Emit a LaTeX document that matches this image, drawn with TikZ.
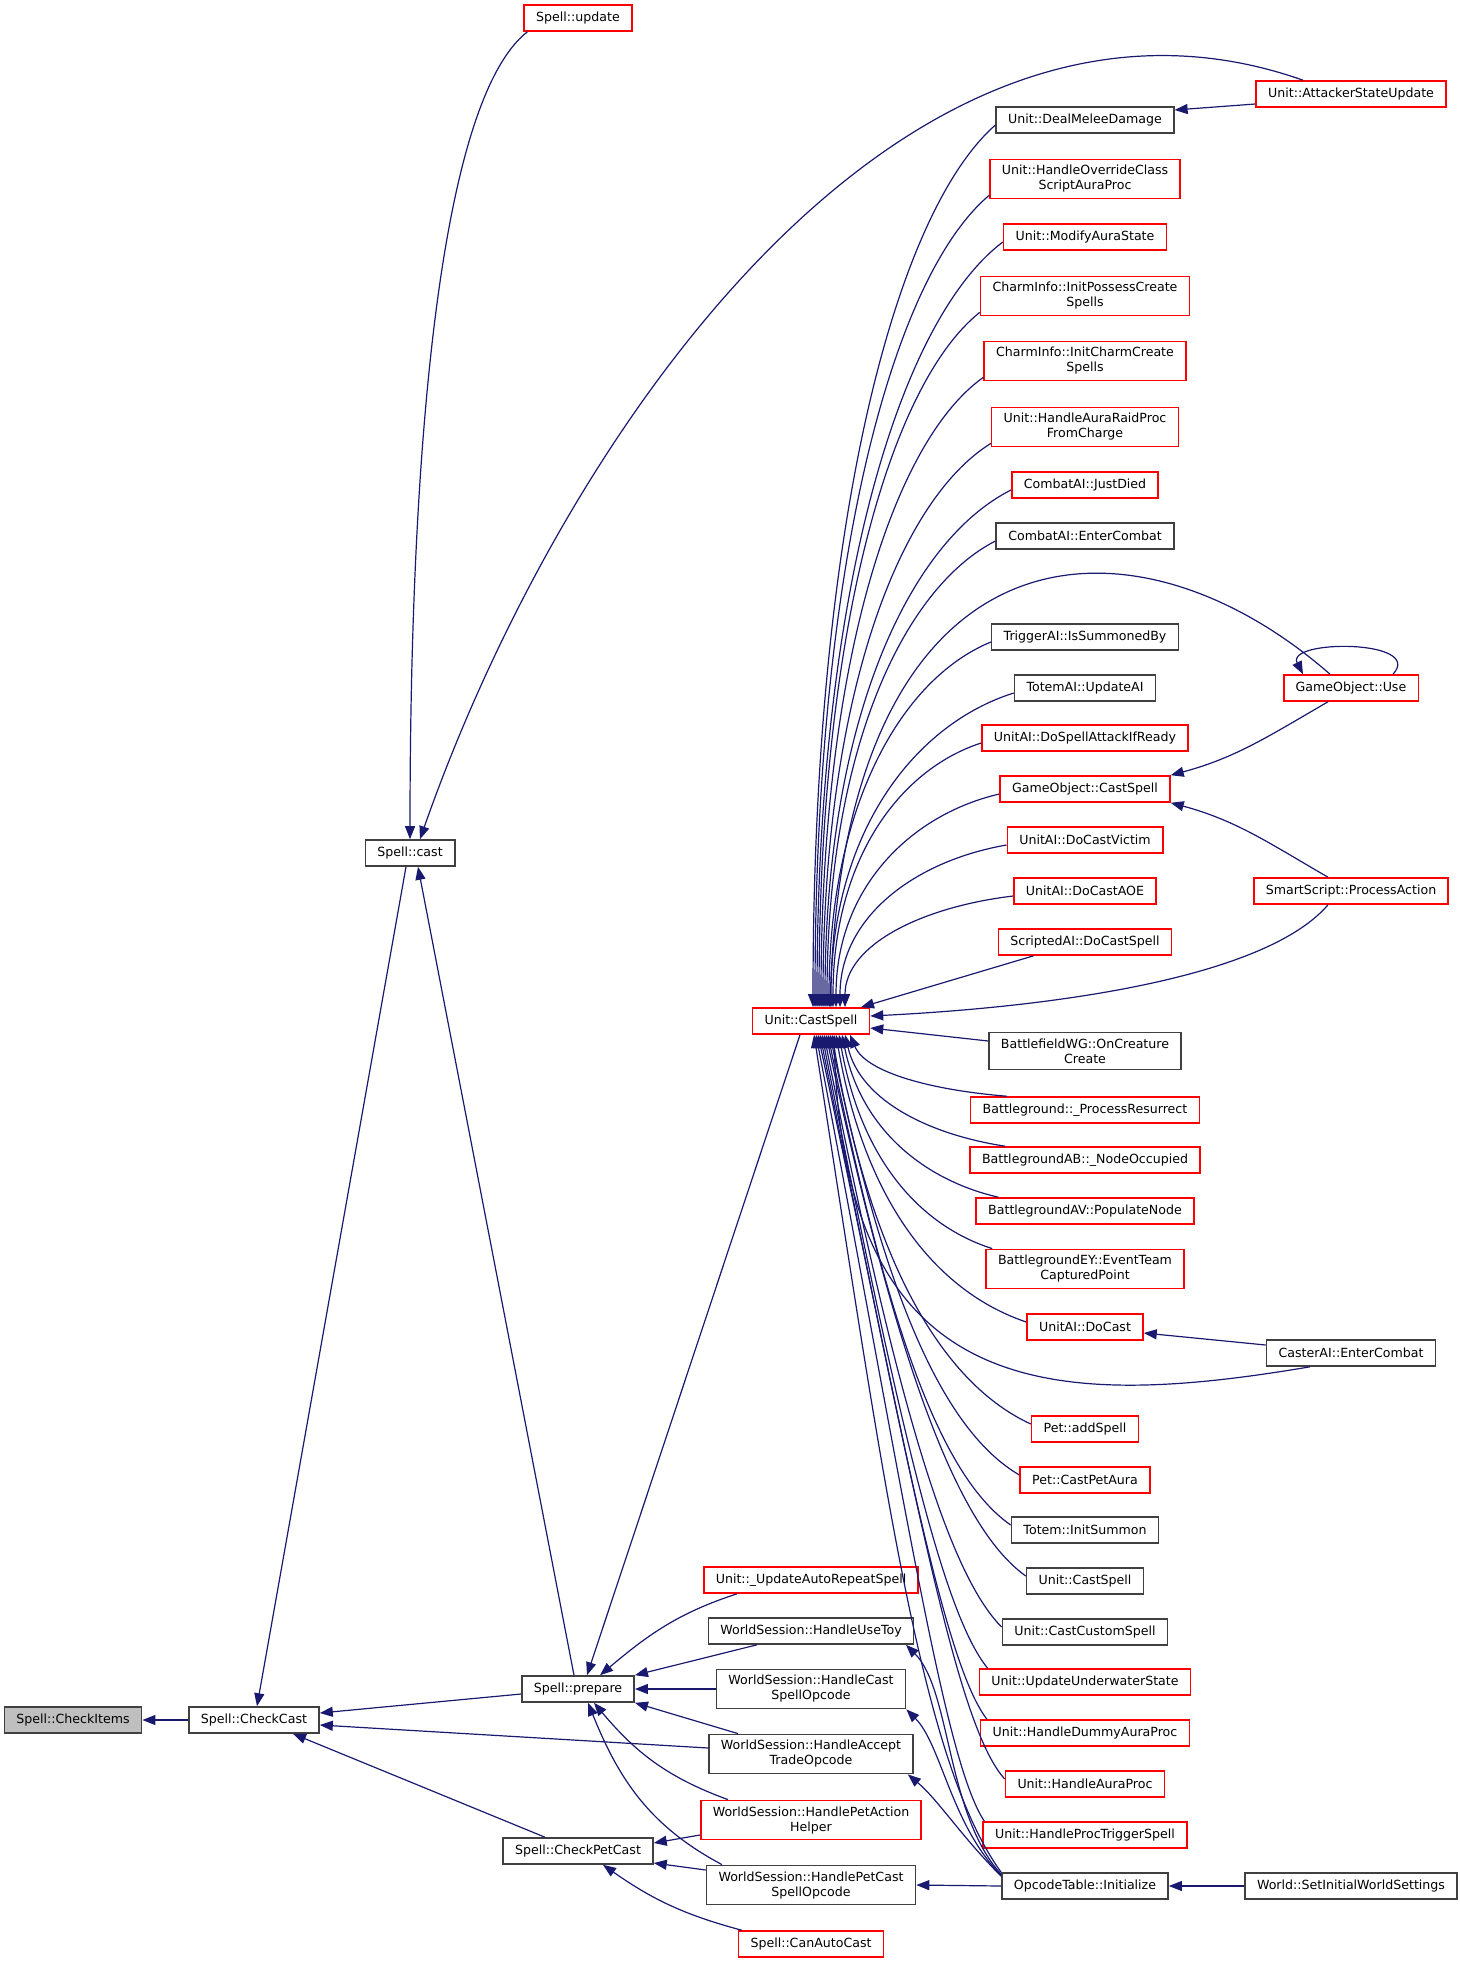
\documentclass[tikz,border=0pt]{standalone}
\usepackage{fontspec}
\setmainfont{DejaVu Sans}
\usetikzlibrary{arrows.meta}
\definecolor{edgeblue}{RGB}{25,25,112}
\tikzset{fn/.style={draw=black!75, fill=white, line width=0.8pt, inner xsep=6pt, inner ysep=3pt,
    minimum height=13pt, align=center, font=\fontsize{6.3}{7.5}\selectfont}}
\tikzset{fnred/.style={fn, draw=red}, fnroot/.style={fn, fill=black!25}}
\tikzset{arr/.style={draw=edgeblue, line width=0.6pt, arrows={Triangle[length=6.5pt,width=5pt]-}}}

\begin{document}
\begin{tikzpicture}[x=0.5pt,y=-0.5pt]
        \useasboundingbox (0,0) rectangle (1460,1963);
        % left part
        \node[fnroot] (ci) at (73,1720) {Spell::CheckItems};
        \node[fn] (cc) at (254,1720) {Spell::CheckCast};
        \node[fn] (cast) at (410,853) {Spell::cast};
        \node[fnred] (upd) at (578,18) {Spell::update};
        \node[fn] (sp) at (578,1689) {Spell::prepare};
        \node[fn] (cpc) at (578,1851) {Spell::CheckPetCast};
        % middle column
        \node[fnred] (ucs) at (811,1021) {Unit::CastSpell};
        \node[fnred] (uar) at (811,1580) {Unit::\_UpdateAutoRepeatSpell};
        \node[fn] (uty) at (811,1631) {WorldSession::HandleUseToy};
        \node[fn] (cso) at (811,1689) {WorldSession::HandleCast\\SpellOpcode};
        \node[fn] (ato) at (811,1754) {WorldSession::HandleAccept\\TradeOpcode};
        \node[fnred] (pah) at (811,1820) {WorldSession::HandlePetAction\\Helper};
        \node[fn] (ppc) at (811,1885) {WorldSession::HandlePetCast\\SpellOpcode};
        \node[fnred] (cac) at (811,1944) {Spell::CanAutoCast};
        % callers of Unit::CastSpell
        \node[fn] (dmd) at (1085,120) {Unit::DealMeleeDamage};
        \node[fnred] (hoc) at (1085,179) {Unit::HandleOverrideClass\\ScriptAuraProc};
        \node[fnred] (mas) at (1085,237) {Unit::ModifyAuraState};
        \node[fnred] (ipc) at (1085,296) {CharmInfo::InitPossessCreate\\Spells};
        \node[fnred] (icc) at (1085,361) {CharmInfo::InitCharmCreate\\Spells};
        \node[fnred] (arp) at (1085,427) {Unit::HandleAuraRaidProc\\FromCharge};
        \node[fnred] (cjd) at (1085,485) {CombatAI::JustDied};
        \node[fn] (cec) at (1085,536) {CombatAI::EnterCombat};
        \node[fn] (tis) at (1085,637) {TriggerAI::IsSummonedBy};
        \node[fn] (tua) at (1085,688) {TotemAI::UpdateAI};
        \node[fnred] (dsa) at (1085,738) {UnitAI::DoSpellAttackIfReady};
        \node[fnred] (gcs) at (1085,789) {GameObject::CastSpell};
        \node[fnred] (dcv) at (1085,840) {UnitAI::DoCastVictim};
        \node[fnred] (dca) at (1085,891) {UnitAI::DoCastAOE};
        \node[fnred] (sds) at (1085,942) {ScriptedAI::DoCastSpell};
        \node[fn] (wg) at (1085,1051) {BattlefieldWG::OnCreature\\Create};
        \node[fnred] (bpr) at (1085,1110) {Battleground::\_ProcessResurrect};
        \node[fnred] (bab) at (1085,1160) {BattlegroundAB::\_NodeOccupied};
        \node[fnred] (bav) at (1085,1211) {BattlegroundAV::PopulateNode};
        \node[fnred] (bey) at (1085,1269) {BattlegroundEY::EventTeam\\CapturedPoint};
        \node[fnred] (dct) at (1085,1327) {UnitAI::DoCast};
        \node[fnred] (pas) at (1085,1429) {Pet::addSpell};
        \node[fnred] (cpa) at (1085,1480) {Pet::CastPetAura};
        \node[fn] (tin) at (1085,1530) {Totem::InitSummon};
        \node[fn] (ucs2) at (1085,1581) {Unit::CastSpell};
        \node[fn] (ccs) at (1085,1632) {Unit::CastCustomSpell};
        \node[fnred] (uuw) at (1085,1682) {Unit::UpdateUnderwaterState};
        \node[fnred] (hda) at (1085,1733) {Unit::HandleDummyAuraProc};
        \node[fnred] (hap) at (1085,1784) {Unit::HandleAuraProc};
        \node[fnred] (hpt) at (1085,1835) {Unit::HandleProcTriggerSpell};
        \node[fn] (opc) at (1085,1886) {OpcodeTable::Initialize};
        % right column
        \node[fnred] (asu) at (1351,94) {Unit::AttackerStateUpdate};
        \node[fnred] (gou) at (1351,688) {GameObject::Use};
        \node[fnred] (sma) at (1351,891) {SmartScript::ProcessAction};
        \node[fn] (cae) at (1351,1353) {CasterAI::EnterCombat};
        \node[fn] (wsi) at (1351,1886) {World::SetInitialWorldSettings};

        % Spell::CheckItems, Spell::CheckCast, Spell::cast
        \draw[arr] (ci.east) -- (cc.west);
        \draw[arr] ([xshift=1.5pt]cc.north) -- ([xshift=-2pt]cast.south);
        \draw[arr] ([yshift=3.5pt]cc.east) -- ([yshift=-2.5pt]sp.west);
        \draw[arr] ([yshift=-2.5pt]cc.east) -- ([yshift=3pt]ato.west);
        \draw[arr] ([xshift=19.5pt]cc.south) -- ([xshift=-16.5pt]cpc.north);
        \draw[arr] (cast.north) .. controls +(0,-390) and +(-88,69) .. ([xshift=2pt]upd.south west);
        \draw[arr] ([xshift=5pt]cast.north) .. controls +(140,-400) and +(-403,-142) .. ([xshift=-24pt]asu.north);
        \draw[arr] ([xshift=4pt]cast.south) -- ([xshift=-2pt]sp.north);
        % Spell::prepare
        \draw[arr] ([xshift=4.5pt]sp.north) -- ([xshift=-5.5pt]ucs.south);
        \draw[arr] ([xshift=11pt]sp.north) to[out=40,in=198] ([xshift=-37pt]uar.south);
        \draw[arr] (sp.north east) -- ([xshift=-27pt]uty.south);
        \draw[arr] (sp.east) -- (cso.west);
        \draw[arr] (sp.south east) -- ([xshift=-36.5pt]ato.north);
        \draw[arr] ([xshift=8pt]sp.south) to[out=-50,in=160] ([xshift=-41.5pt]pah.north);
        \draw[arr] ([xshift=5pt]sp.south) to[out=-68,in=152] ([xshift=-44.5pt]ppc.north);
        % Spell::CheckPetCast
        \draw[arr] ([yshift=4pt]cpc.east) -- ([yshift=-7.5pt]pah.west);
        \draw[arr] ([yshift=-6pt]cpc.east) -- ([yshift=7.5pt]ppc.west);
        \draw[arr] ([xshift=12.5pt]cpc.south) to[out=-35,in=165] ([xshift=2pt]cac.north west);
        % Unit::CastSpell, callers above
        \draw[arr] ([xshift=1pt]ucs.north) .. controls +(0,-486) and +(-100,88) .. ([yshift=-2.5pt]dmd.west);
        \draw[arr] ([xshift=2pt]ucs.north) .. controls +(0,-447) and +(-96,81) .. ([yshift=2pt]hoc.south west);
        \draw[arr] ([xshift=3pt]ucs.north) .. controls +(0,-421) and +(-102,77) .. ([yshift=-2.5pt]mas.west);
        \draw[arr] ([xshift=4pt]ucs.north) .. controls +(0,-383) and +(-88,70) .. ([yshift=2pt]ipc.south west);
        \draw[arr] ([xshift=5pt]ucs.north) .. controls +(0,-347) and +(-89,63) .. ([yshift=2pt]icc.south west);
        \draw[arr] ([xshift=6pt]ucs.north) .. controls +(0,-311) and +(-92,57) .. ([yshift=2pt]arp.south west);
        \draw[arr] ([xshift=7pt]ucs.north) .. controls +(0,-285) and +(-103,52) .. ([yshift=-2.5pt]cjd.west);
        \draw[arr] ([xshift=8pt]ucs.north) .. controls +(0,-257) and +(-92,47) .. ([yshift=-2.5pt]cec.west);
        \draw[arr] ([xshift=9.5pt]ucs.north) .. controls +(15,-488) and +(-200,-175) .. ([xshift=-10.5pt]gou.north);
        \draw[arr] ([xshift=9pt]ucs.north) .. controls +(0,-201) and +(-90,37) .. ([yshift=-2.5pt]tis.west);
        \draw[arr] ([xshift=10pt]ucs.north) .. controls +(0,-173) and +(-101,32) .. ([yshift=-2.5pt]tua.west);
        \draw[arr] ([xshift=11pt]ucs.north) .. controls +(0,-146) and +(-83,27) .. ([yshift=-2.5pt]dsa.west);
        \draw[arr] ([xshift=12.5pt]ucs.north) .. controls +(0,-118) and +(-90,21) .. ([yshift=-2.5pt]gcs.west);
        \draw[arr] ([xshift=14.5pt]ucs.north) .. controls +(0,-90) and +(-92,16) .. ([yshift=-2.5pt]dcv.west);
        \draw[arr] ([xshift=17pt]ucs.north) .. controls +(0,-62) and +(-92,11) .. ([yshift=-2.5pt]dca.west);
        \draw[arr] ([xshift=25pt]ucs.north) -- ([xshift=18pt]sds.south west);
        \draw[arr] ([yshift=2.5pt]ucs.east) .. controls +(200,-10) and +(-60,70) .. ([xshift=-11.5pt]sma.south);
        % Unit::CastSpell, callers below
        \draw[arr] ([yshift=-3.5pt]ucs.east) -- ([yshift=5pt]wg.west);
        \draw[arr] ([xshift=19.5pt]ucs.south) .. controls +(16,38) and +(-74,-6) .. (bpr.170);
        \draw[arr] ([xshift=17pt]ucs.south) .. controls +(16,68) and +(-72,-11) .. ([xshift=18pt]bab.north west);
        \draw[arr] ([xshift=15.5pt]ucs.south) .. controls +(20,98) and +(-70,-16) .. ([xshift=11.5pt]bav.north west);
        \draw[arr] ([xshift=14pt]ucs.south) .. controls +(23,129) and +(-69,-22) .. ([xshift=3.5pt]bey.north west);
        \draw[arr] ([xshift=12.5pt]ucs.south) .. controls +(30,173) and +(-86,-29) .. ([yshift=2.5pt]dct.west);
        \draw[arr] ([xshift=11.5pt]ucs.south) .. controls +(10,366) and +(-260,44) .. ([xshift=-20.5pt]cae.south);
        \draw[arr] ([xshift=10.5pt]ucs.south) .. controls +(40,234) and +(-85,-39) .. ([yshift=2.5pt]pas.west);
        \draw[arr] ([xshift=9.5pt]ucs.south) .. controls +(55,265) and +(-75,-44) .. ([yshift=2.5pt]cpa.west);
        \draw[arr] ([xshift=8.5pt]ucs.south) .. controls +(60,295) and +(-70,-49) .. ([yshift=2.5pt]tin.west);
        \draw[arr] ([xshift=7.5pt]ucs.south) .. controls +(70,325) and +(-70,-50) .. ([yshift=2.5pt]ucs2.west);
        \draw[arr] ([xshift=6.5pt]ucs.south) .. controls +(70,356) and +(-55,-55) .. ([yshift=2.5pt]ccs.west);
        \draw[arr] ([xshift=5.5pt]ucs.south) .. controls +(75,382) and +(-45,-55) .. ([xshift=4.5pt]uuw.north west);
        \draw[arr] ([xshift=4.5pt]ucs.south) .. controls +(83,412) and +(-42,-55) .. ([xshift=3.5pt]hda.north west);
        \draw[arr] ([xshift=3.5pt]ucs.south) .. controls +(95,447) and +(-50,-55) .. ([yshift=2.5pt]hap.west);
        \draw[arr] ([xshift=2.5pt]ucs.south) .. controls +(90,470) and +(-40,-60) .. ([xshift=1pt]hpt.north west);
        \draw[arr] ([xshift=1.5pt]ucs.south) .. controls +(70,450) and +(-80,-110) .. (opc.north west);
        % the rest
        \draw[arr] ([yshift=5pt]dmd.east) -- ([yshift=-5pt]asu.west);
        \draw[arr] ([xshift=-24pt]gou.north) .. controls +(-18,-35) and +(32,-35) .. ([xshift=21pt]gou.north);
        \draw[arr] (gcs.north east) to[out=15,in=210] ([xshift=-11.5pt]gou.south);
        \draw[arr] (gcs.south east) to[out=-15,in=150] ([xshift=-11.5pt]sma.north);
        \draw[arr] ([yshift=-3pt]dct.east) -- ([yshift=4pt]cae.west);
        \draw[arr] ([xshift=47.5pt]uty.south) .. controls +(45,45) and +(-55,-60) .. ([yshift=-1pt]opc.north west);
        \draw[arr] (cso.south east) .. controls +(35,35) and +(-50,-50) .. ([yshift=-1.5pt]opc.north west);
        \draw[arr] ([xshift=-3pt]ato.south east) .. controls +(30,25) and +(-40,-40) .. ([yshift=-2pt]opc.north west);
        \draw[arr] (ppc.east) -- (opc.west);
        \draw[arr] (opc.east) -- (wsi.west);
\end{tikzpicture}
\end{document}
